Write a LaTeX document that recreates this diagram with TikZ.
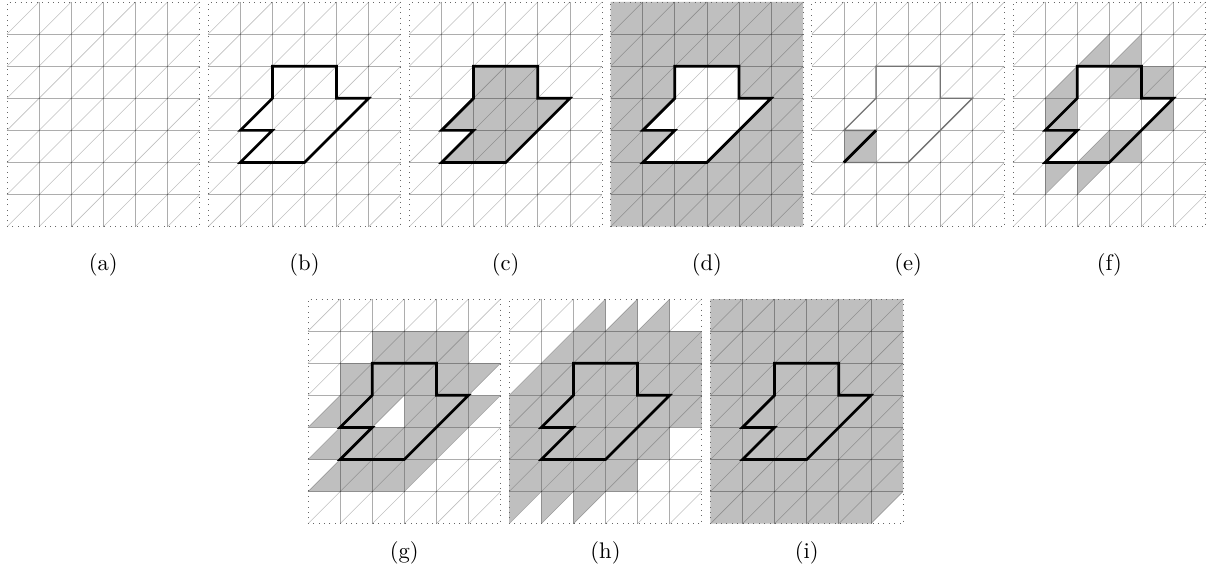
\documentclass[tikz,border=0pt]{standalone}
\begin{document}
\begin{tikzpicture}[x=0.5cm,y=0.5cm]
\tikzset{
  shadefill/.style={fill=black!25},
  gridline/.style={draw=black, draw opacity=0.32, line width=0.3pt},
  diagline/.style={draw=black, draw opacity=0.25, line width=0.25pt},
  borderline/.style={draw=black!60, dotted, line width=0.4pt},
  outline/.style={draw=black, line width=1.2pt, line join=miter},
  thinoutline/.style={draw=black!55, line width=0.6pt, line join=miter},
  lbl/.style={anchor=base, font=\normalsize},
}
\newcommand\tU[2]{\fill[shadefill] (#1,#2) -- ++(0,1) -- ++(1,0) -- cycle;}
\newcommand\tL[2]{\fill[shadefill] (#1,#2) -- ++(1,0) -- ++(0,1) -- cycle;}
\newcommand\drawgrid{%
  \foreach \i in {0,...,5}{\foreach \j in {0,...,6}{\draw[diagline] (\i,\j) -- ++(1,1);}}
  \foreach \i in {1,...,5}{\draw[gridline] (\i,0) -- (\i,7);}
  \foreach \j in {1,...,6}{\draw[gridline] (0,\j) -- (6,\j);}
  \draw[borderline] (0,0) rectangle (6,7);
}
\newcommand\polyshape[1]{\path[#1] (2,5) -- (4,5) -- (4,4) -- (5,4) -- (3,2) -- (1,2) -- (2,3) -- (1,3) -- (2,4) -- cycle;}

\path[fill=white] (0,0) rectangle (37.633,-17.850);
\useasboundingbox (0,0) rectangle (37.633,-17.850);

% (a)
\begin{scope}[shift={(0.218,-7.062)}]
  \drawgrid
  \node[lbl] (la) at (3,-1.36) {(a)};
\end{scope}

% (b)
\begin{scope}[shift={(6.486,-7.062)}]
  \drawgrid
  \polyshape{outline}
  \node[lbl] (lb) at (3,-1.36) {(b)};
\end{scope}

% (c)
\begin{scope}[shift={(12.754,-7.062)}]
  \polyshape{shadefill}
  \drawgrid
  \polyshape{outline}
  \node[lbl] (lc) at (3,-1.36) {(c)};
\end{scope}

% (d)
\begin{scope}[shift={(19.022,-7.062)}]
  \path[shadefill, even odd rule] (0,0) rectangle (6,7) (2,5) -- (4,5) -- (4,4) -- (5,4) -- (3,2) -- (1,2) -- (2,3) -- (1,3) -- (2,4) -- cycle;
  \drawgrid
  \polyshape{outline}
  \node[lbl] (ld) at (3,-1.36) {(d)};
\end{scope}

% (e)
\begin{scope}[shift={(25.290,-7.062)}]
  \fill[shadefill] (1,2) rectangle (2,3);
  \drawgrid
  \polyshape{thinoutline}
  \draw[outline] (1,2) -- (2,3);
  \node[lbl] (le) at (3,-1.36) {(e)};
\end{scope}

% (f)
\begin{scope}[shift={(31.558,-7.062)}]
  \foreach \a/\b in {4/4,2/1,1/1,1/2,1/3,3/4,3/2}{\tU{\a}{\b}}
  \foreach \a/\b in {2/5,3/5,4/4,4/3,3/2,1/4,3/4,2/2,1/3}{\tL{\a}{\b}}
  \drawgrid
  \polyshape{outline}
  \node[lbl] (lf) at (3,-1.36) {(f)};
\end{scope}

% (g)
\begin{scope}[shift={(9.595,-16.315)}]
  \foreach \a/\b in {4/4,2/1,1/1,1/2,1/3,2/4,3/4,4/3,3/2,2/5,3/5,4/5,5/4,5/3,4/2,3/1,1/4,3/3,2/2,2/3}{\tU{\a}{\b}}
  \foreach \a/\b in {2/5,3/5,4/4,4/3,3/2,1/4,3/4,2/2,1/2,1/3,4/5,2/1,1/1,0/1,0/2,0/3,2/4,3/3}{\tL{\a}{\b}}
  \drawgrid
  \polyshape{outline}
  \node[lbl] (lg) at (3,-1.08) {(g)};
\end{scope}

% (h)
\begin{scope}[shift={(15.863,-16.315)}]
  \foreach \a/\b in {4/4,2/1,1/1,1/2,1/3,2/4,3/4,4/3,3/2,2/5,3/5,4/5,5/4,5/3,4/2,3/1,1/4,3/3,2/2,2/3,5/5,2/0,1/0,0/1,0/0,0/2,0/3}{\tU{\a}{\b}}
  \foreach \a/\b in {2/5,3/5,4/4,4/3,3/2,1/4,3/4,2/2,1/2,1/3,4/5,2/1,1/1,0/1,0/2,0/3,2/4,3/3,1/5,2/6,3/6,4/6,5/4,5/5,5/3,4/2,3/1,2/3,0/4}{\tL{\a}{\b}}
  \drawgrid
  \polyshape{outline}
  \node[lbl] (lh) at (3,-1.08) {(h)};
\end{scope}

% (i)
\begin{scope}[shift={(22.131,-16.315)}]
  \fill[shadefill] (0,0) -- (5,0) -- (6,1) -- (6,7) -- (0,7) -- cycle;
  \drawgrid
  \polyshape{outline}
  \node[lbl] (li) at (3,-1.08) {(i)};
\end{scope}
\end{tikzpicture}
\end{document}
